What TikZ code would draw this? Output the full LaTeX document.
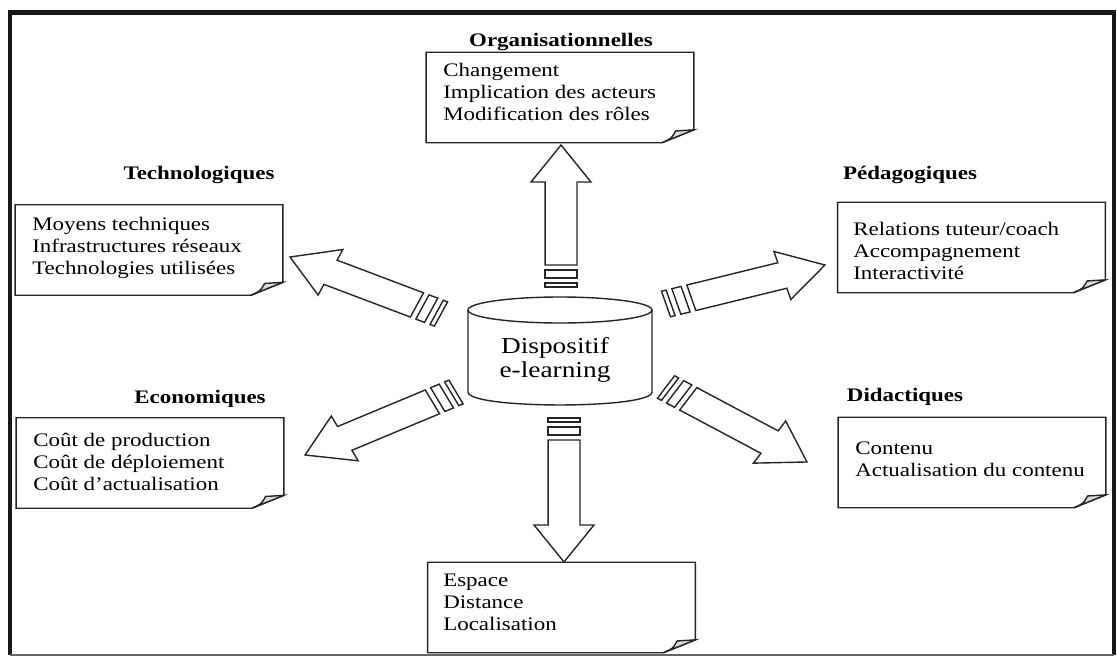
\documentclass[tikz,border=0pt]{standalone}
\usepackage{fontspec}
\setmainfont{Liberation Serif}[FakeStretch=1.2]
\usetikzlibrary{calc}

% box with a turned-up corner, drawn round a node
\newcommand{\pliure}[1]{%
  \draw[trait] (#1.north west) -- (#1.north east) -- ([yshift=9.2pt]#1.south east)
    -- ([xshift=-22.8pt]#1.south east) -- (#1.south west) -- cycle;
  \filldraw[trait, fill=gray!30] ([xshift=-22.8pt]#1.south east)
    .. controls ([xshift=-16pt,yshift=3pt]#1.south east) .. ([xshift=-13pt,yshift=8.4pt]#1.south east)
    -- ([yshift=9.2pt]#1.south east) -- cycle;
}

% block arrow with two bars at its tail, from #1 to #2
\newcommand{\fleche}[2]{%
  \pgfpointdiff{\pgfpointanchor{#1}{center}}{\pgfpointanchor{#2}{center}}%
  \pgfgetlastxy{\fdx}{\fdy}%
  \pgfmathsetmacro{\fu}{\fdx/0.71132/1.2}%
  \pgfmathsetmacro{\fv}{\fdy/0.71132}%
  \pgfmathsetmacro{\fang}{atan2(\fv,\fu)}%
  \pgfmathsetmacro{\flen}{veclen(\fu,\fv)}%
  \begin{scope}[shift={(#1)}, xscale=1.2, rotate=\fang, x=0.025cm, y=0.025cm]
    \draw[trait] (0,-13.3) rectangle (4,13.3);
    \draw[trait] (9,-13.3) rectangle (17,13.3);
    \draw[trait] (22,-13.3) -- ({\flen-37},-13.3) -- ({\flen-37},-25) -- (\flen,0)
      -- ({\flen-37},25) -- ({\flen-37},13.3) -- (22,13.3) -- cycle;
  \end{scope}}

\begin{document}
\begin{tikzpicture}[x=0.025cm, y=-0.025cm]
    \tikzstyle{trait}=[draw=black!85, line width=1pt, line join=miter]
    \tikzstyle{boite}=[rectangle, minimum width=190pt, minimum height=64pt, inner sep=0pt]
    \tikzstyle{liste}=[anchor=north west, align=left, inner sep=0pt, font=\fontsize{13.6}{15.6}\selectfont]
    \tikzstyle{titre}=[anchor=base, inner sep=0pt, font=\fontsize{13.6}{15.6}\selectfont\bfseries]
    \tikzstyle{centre}=[align=center, inner sep=0pt, font=\fontsize{16.2}{17}\selectfont]

    \useasboundingbox[fill=white] (0,0) rectangle (1117,657);

    % frame
    \draw[line width=3pt, black!90] (10,655) -- (10,12.5) -- (1114,12.5) -- (1114,655);
    \draw[line width=0.8pt, black!60] (10,655) -- (1114,655);

    % centre
    \draw[trait] (560,310) ellipse (92 and 13);
    \draw[trait] (468,310) -- (468,392) .. controls (468,409.3) and (652,409.3) .. (652,392) -- (652,310);
    \node[centre] (disp) at (555,360) {Dispositif\\e-learning};

    % boxes
    \node[boite] (orga)   at (560,97.5)   {};
    \node[boite] (techno) at (149,250)    {};
    \node[boite] (peda)   at (971.5,247.5) {};
    \node[boite] (eco)    at (150,463)    {};
    \node[boite] (didac)  at (972,462.5)  {};
    \node[boite] (spat)   at (561.5,607.5) {};

    \pliure{orga}
    \pliure{techno}
    \pliure{peda}
    \pliure{eco}
    \pliure{didac}
    \pliure{spat}

    \node[titre] (t-orga)   at (561,46.7)  {Organisationnelles};
    \node[titre] (t-techno) at (199,179.3) {Technologiques};
    \node[titre] (t-peda)   at (910,179.3) {Pédagogiques};
    \node[titre] (t-eco)    at (200,403.3) {Economiques};
    \node[titre] (t-didac)  at (905,401.7) {Didactiques};

    \node[liste] (l-orga)   at (443,63)  {Changement\\Implication des acteurs\\Modification des rôles};
    \node[liste] (l-techno) at (32,217)  {Moyens techniques\\Infrastructures réseaux\\Technologies utilisées};
    \node[liste] (l-peda)   at (853,222) {Relations tuteur/coach\\Accompagnement\\Interactivité};
    \node[liste] (l-eco)    at (33,433)  {Coût de production\\Coût de déploiement\\Coût d'actualisation};
    \node[liste] (l-didac)  at (855,442) {Contenu\\Actualisation du contenu};
    \node[liste] (l-spat)   at (443,574) {Espace\\Distance\\Localisation};

    % arrows
    \coordinate (q-orga)   at (561,287);
    \coordinate (p-orga)   at (561,145);
    \coordinate (q-spat)   at (564,418);
    \coordinate (p-spat)   at (564,562);
    \coordinate (q-techno) at (441,314);
    \coordinate (p-techno) at (290,257);
    \coordinate (q-peda)   at (666,304);
    \coordinate (p-peda)   at (825,265);
    \coordinate (q-eco)    at (456,392);
    \coordinate (p-eco)    at (305,455);
    \coordinate (q-didac)  at (666,387);
    \coordinate (p-didac)  at (807,462);

    \fleche{q-orga}{p-orga}
    \fleche{q-spat}{p-spat}
    \fleche{q-techno}{p-techno}
    \fleche{q-peda}{p-peda}
    \fleche{q-eco}{p-eco}
    \fleche{q-didac}{p-didac}
\end{tikzpicture}
\end{document}
